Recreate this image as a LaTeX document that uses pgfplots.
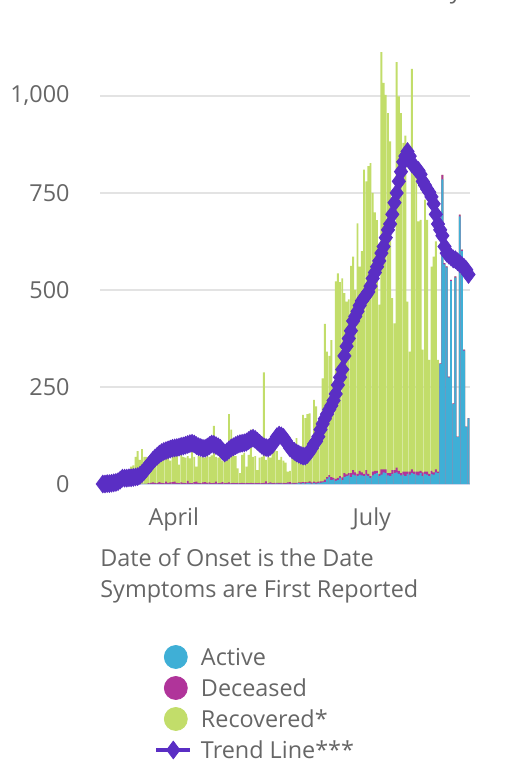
\documentclass[border=0pt]{standalone}
\usepackage{fontspec}
\setmainfont{Open Sans}
\usepackage{pgfplots}
\usepackage{pgfplotstable}
\pgfplotsset{compat=1.18}
\definecolor{actc}{HTML}{3FAFD6}
\definecolor{decc}{HTML}{B0349A}
\definecolor{recc}{HTML}{C2DD6A}
\definecolor{trc}{HTML}{5A2EC4}
\definecolor{gridc}{HTML}{E3E3E3}
\definecolor{axisc}{HTML}{CCD6EB}
\definecolor{txtc}{HTML}{666666}
\pgfplotstableread{
d act dec rec tr
0 0 0 0 0
1 0 0 0 0
2 0 0 1 1
3 0 0 1 1
4 0 0 2 2
5 0 0 3 3
6 0 0 5 4
7 0 0 6 6
8 0 0 8 10
9 0 0 10 15
10 0 0 14 15
11 0 0 20 15
12 0 0 28 16
13 0 0 45 16
14 0 0 48 17
15 0 0 70 18
16 0 0 85 19
17 0 0 62 22
18 0 0 90 27
19 0 0 70 33
20 0 0 70 40
21 0 2 58 47
22 0 3 59 54
23 0 4 61 61
24 0 3 72 67
25 0 2 78 72
26 0 5 80 77
27 0 3 87 81
28 0 2 78 84
29 0 6 89 86
30 0 3 82 88
31 0 4 56 90
32 0 5 90 92
33 0 6 94 93
34 0 3 87 94
35 0 2 48 95
36 0 4 91 97
37 0 3 67 98
38 0 2 66 100
39 0 8 64 102
40 0 3 63 104
41 0 2 122 105
42 0 5 65 103
43 0 6 39 99
44 0 3 69 96
45 0 2 68 94
46 0 4 71 92
47 0 5 63 92
48 0 3 69 95
49 0 4 66 99
50 0 2 72 103
51 0 3 147 102
52 0 6 64 99
53 0 2 66 96
54 0 3 69 92
55 0 5 55 85
56 0 2 72 80
57 0 3 67 83
58 0 4 176 88
59 0 2 138 93
60 0 3 73 96
61 0 2 70 99
62 0 3 37 102
63 0 2 26 104
64 0 3 72 105
65 0 2 78 106
66 0 3 42 108
67 0 2 73 112
68 0 3 137 116
69 0 2 68 118
70 0 3 69 115
71 0 2 34 110
72 0 3 65 105
73 0 2 68 100
74 0 3 285 96
75 0 7 55 94
76 0 2 68 93
77 1 3 64 97
78 0 2 94 102
79 0 3 87 112
80 1 2 82 122
81 0 3 59 126
82 1 2 67 124
83 0 3 57 120
84 0 2 53 112
85 1 3 28 102
86 0 5 29 93
87 1 2 67 88
88 0 3 69 84
89 1 2 115 80
90 2 2 58 77
91 1 3 88 74
92 2 3 173 72
93 1 4 165 72
94 2 2 176 76
95 2 5 175 83
96 1 3 92 92
97 2 4 211 103
98 1 3 196 110
99 2 4 144 122
100 3 4 153 140
101 4 3 265 155
102 5 6 402 168
103 14 4 323 180
104 18 5 307 192
105 10 8 353 202
106 12 4 234 215
107 8 5 509 232
108 10 6 527 255
109 16 4 500 275
110 10 7 513 295
111 18 10 464 330
112 20 5 445 355
113 22 6 448 375
114 18 10 534 395
115 24 12 550 420
116 22 8 470 432
117 20 6 646 445
118 24 10 526 460
119 22 8 570 472
120 20 6 784 480
121 24 12 744 487
122 20 6 793 495
123 16 4 807 510
124 22 10 718 530
125 26 8 666 545
126 28 6 646 560
127 20 6 436 575
128 24 14 1075 595
129 30 8 996 612
130 28 10 965 635
131 22 6 928 655
132 20 8 855 670
133 26 10 443 695
134 28 8 378 725
135 30 12 1045 750
136 26 8 965 780
137 22 6 928 805
138 24 8 847 830
139 20 12 866 845
140 26 6 438 857
141 24 8 309 845
142 28 10 1032 825
143 26 6 768 820
144 24 8 768 812
145 22 10 645 808
146 28 6 647 798
147 20 10 316 780
148 26 6 701 770
149 24 8 649 760
150 20 6 294 752
151 26 8 526 740
152 24 6 556 722
153 30 8 587 695
154 28 4 288 670
155 309 2 0 655
156 785 12 0 640
157 566 3 0 612
158 558 3 0 595
159 275 2 0 590
160 523 3 0 585
161 206 2 0 580
162 532 3 0 578
163 121 1 0 573
164 690 4 0 568
165 601 3 0 563
166 344 2 0 558
167 147 1 0 552
168 169 1 0 540
}\datatable
\begin{document}
\begin{tikzpicture}
\useasboundingbox (0,0) rectangle (253pt,382pt);
\begin{axis}[
  at={(50pt,140pt)}, anchor=south west,
  scale only axis, width=185pt, height=223.1pt,
  xmin=-1.3, xmax=168.7, ymin=0, ymax=1150,
  clip=false,
  axis line style={draw=none},
  major tick length=0pt,
  ytick={250,500,750,1000},
  extra y ticks={0},
  extra y tick style={grid style={draw=axisc, line width=1pt}},
  ymajorgrids,
  grid style={draw=gridc, line width=1pt},
  xtick={32.6,123.6},
  xticklabels={April,July},
  tick label style={font=\fontsize{11.7}{14}\selectfont, text=txtc},
  yticklabel style={anchor=east, inner sep=0pt, xshift=-15pt},
  xticklabel style={anchor=north, inner sep=0pt, yshift=-11.5pt},
  /pgf/number format/assume math mode=true,
  /pgf/number format/1000 sep={,},
  legend cell align=left,
  legend style={at={(axis description cs:0.146,-0.3608)}, anchor=north west,
    draw=none, fill=none, inner sep=0pt, outer sep=0pt,
    row sep=3.5pt, column sep=4.2pt,
    font=\fontsize{11.7}{14}\selectfont, text=txtc,
    nodes={inner sep=0pt, text height=10.2pt, text depth=1.8pt}},
]
\addlegendimage{legend image code/.code={\fill[actc] (9.8pt,0pt) circle (5.75pt);}}
\addlegendentry{Active}
\addlegendimage{legend image code/.code={\fill[decc] (9.8pt,0pt) circle (5.75pt);}}
\addlegendentry{Deceased}
\addlegendimage{legend image code/.code={\fill[recc] (9.8pt,0pt) circle (5.75pt);}}
\addlegendentry{Recovered*}
\addplot[ybar, bar width=0.85, bar shift=0pt, fill=recc, draw=none, forget plot]
  table[x=d, y expr=\thisrow{act}+\thisrow{dec}+\thisrow{rec}] {\datatable};
\addplot[ybar, bar width=0.85, bar shift=0pt, fill=decc, draw=none, forget plot]
  table[x=d, y expr=\thisrow{act}+\thisrow{dec}] {\datatable};
\addplot[ybar, bar width=0.85, bar shift=0pt, fill=actc, draw=none, forget plot]
  table[x=d, y=act] {\datatable};
\addplot[color=trc, line width=2.2pt, mark=diamond*, mark size=4.4pt,
  mark options={solid, fill=trc, draw=trc, line width=0.4pt}]
  table[x=d, y=tr] {\datatable};
\addlegendentry{Trend Line***}
\end{axis}
\node[anchor=base west, inner sep=0pt, text=txtc, font=\fontsize{11.7}{14}\selectfont] at (50pt,98.5pt) {Date of Onset is the Date};
\node[anchor=base west, inner sep=0pt, text=txtc, font=\fontsize{11.7}{14}\selectfont] at (50pt,83pt) {Symptoms are First Reported};
\node[anchor=base east, inner sep=0pt, text=txtc, font=\fontsize{11.7}{14}\selectfont] at (231pt,382.7pt) {Day};
\end{tikzpicture}
\end{document}
